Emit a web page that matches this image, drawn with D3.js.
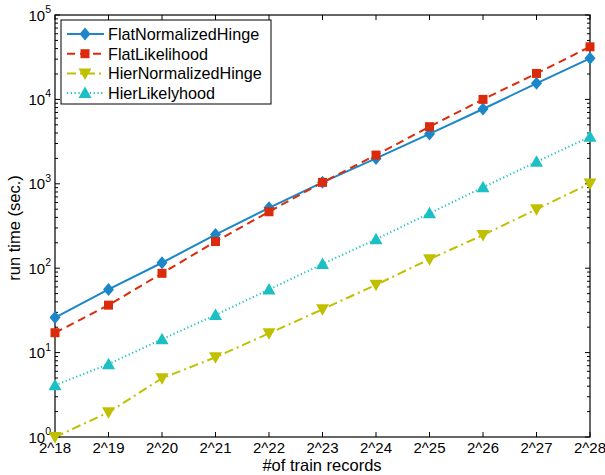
<!DOCTYPE html>
<html><head><meta charset="utf-8">
<script src="https://cdn.jsdelivr.net/npm/d3@7"></script>
<style>body{margin:0;background:#fff}text{font-family:"Liberation Sans",Arial,sans-serif}</style>
</head><body>
<svg id="c" width="605" height="475"></svg>
<script>
const exponents = [18,19,20,21,22,23,24,25,26,27,28];
const xTickLabels = exponents.map(e => "2^" + e);
const flatNormalizedHinge = [26, 56, 116, 250, 520, 1040, 2000, 3900, 7700, 15500, 30700];
const flatLikelihood = [17.2, 36.5, 87, 207, 466, 1040, 2190, 4750, 10000, 20300, 42000];
const hierNormalizedHinge = [1, 1.96, 4.96, 8.8, 16.9, 32.6, 63.5, 128, 247, 499, 1010];
const hierLikelyhood = [4.1, 7.3, 14.4, 27.9, 56, 112, 220, 447, 908, 1820, 3610];
const seriesNames = ["FlatNormalizedHinge","FlatLikelihood","HierNormalizedHinge","HierLikelyhood"];
const yTickExps = [0,1,2,3,4,5];

const series = [
  {name: seriesNames[0], values: flatNormalizedHinge, color: "#1b86c8", dash: null, marker: "diamond"},
  {name: seriesNames[1], values: flatLikelihood, color: "#dc2b0c", dash: "8,5", marker: "square"},
  {name: seriesNames[2], values: hierNormalizedHinge, color: "#c0c000", dash: "9,4,2,4", marker: "tdown"},
  {name: seriesNames[3], values: hierLikelyhood, color: "#1cc0c4", dash: "1.2,2.6", marker: "tup"}
];

const L = 55, R = 590, T = 15, B = 437;
const svg = d3.select("#c");
const x = d3.scaleLinear().domain([18, 28]).range([L, R]);
const y = d3.scaleLog().domain([1, 1e5]).range([B, T]);

// Box
svg.append("rect").attr("x", L).attr("y", T).attr("width", R - L).attr("height", B - T)
  .attr("fill", "none").attr("stroke", "#000").attr("stroke-width", 1.2);

// x ticks (inside, bottom and top)
const g = svg.append("g");
exponents.forEach(e => {
  const px = x(e);
  g.append("line").attr("x1", px).attr("x2", px).attr("y1", B).attr("y2", B - 5).attr("stroke", "#000");
  g.append("line").attr("x1", px).attr("x2", px).attr("y1", T).attr("y2", T + 5).attr("stroke", "#000");
});
svg.selectAll(".xl").data(exponents).enter().append("text")
  .attr("x", d => x(d)).attr("y", 453).attr("text-anchor", "middle")
  .attr("font-size", 15).text((d, i) => xTickLabels[i]);

// y ticks
for (let ex = 0; ex <= 5; ex++) {
  const py = y(Math.pow(10, ex));
  g.append("line").attr("x1", L).attr("x2", L + 5).attr("y1", py).attr("y2", py).attr("stroke", "#000");
  g.append("line").attr("x1", R).attr("x2", R - 5).attr("y1", py).attr("y2", py).attr("stroke", "#000");
  if (ex < 5) {
    for (let m = 2; m <= 9; m++) {
      const pm = y(m * Math.pow(10, ex));
      g.append("line").attr("x1", L).attr("x2", L + 3).attr("y1", pm).attr("y2", pm).attr("stroke", "#000");
      g.append("line").attr("x1", R).attr("x2", R - 3).attr("y1", pm).attr("y2", pm).attr("stroke", "#000");
    }
  }
}
yTickExps.forEach(ex => {
  const py = y(Math.pow(10, ex));
  const t = svg.append("text").attr("x", 51).attr("y", py + 5.5).attr("text-anchor", "end").attr("font-size", 15);
  t.append("tspan").text("10");
  t.append("tspan").attr("dy", -7.5).attr("font-size", 10.5).text(ex);
});

// Axis titles
svg.append("text").attr("x", 322).attr("y", 471).attr("text-anchor", "middle").attr("font-size", 16.5).text("#of train records");
svg.append("text").attr("transform", "translate(20,228) rotate(-90)").attr("text-anchor", "middle").attr("font-size", 16.5).text("run time (sec.)");

// marker function
function marker(sel, type, color) {
  if (type === "diamond") {
    sel.append("path").attr("d", "M0,-6.5L5.5,0L0,6.5L-5.5,0Z").attr("fill", color);
  } else if (type === "square") {
    sel.append("rect").attr("x", -4.5).attr("y", -4.5).attr("width", 9).attr("height", 9).attr("fill", color);
  } else if (type === "tdown") {
    sel.append("path").attr("d", "M-6.5,-5L6.5,-5L0,6.5Z").attr("fill", color);
  } else {
    sel.append("path").attr("d", "M-6.5,5L6.5,5L0,-6.5Z").attr("fill", color);
  }
}

const line = d3.line().x((d, i) => x(exponents[i])).y(d => y(d));
series.forEach(s => {
  svg.append("path").attr("d", line(s.values)).attr("fill", "none")
    .attr("stroke", s.color).attr("stroke-width", 2)
    .attr("stroke-dasharray", s.dash);
  s.values.forEach((v, i) => {
    const mg = svg.append("g").attr("transform", `translate(${x(exponents[i])},${y(v)})`);
    marker(mg, s.marker, s.color);
  });
});

// Legend
svg.append("rect").attr("x", 61).attr("y", 20).attr("width", 210).attr("height", 84)
  .attr("fill", "#fff").attr("stroke", "#000").attr("stroke-width", 1);
series.forEach((s, i) => {
  const ly = 34 + i * 19.7;
  svg.append("line").attr("x1", 67).attr("x2", 104).attr("y1", ly).attr("y2", ly)
    .attr("stroke", s.color).attr("stroke-width", 2).attr("stroke-dasharray", s.dash);
  const mg = svg.append("g").attr("transform", `translate(85,${ly})`);
  marker(mg, s.marker, s.color);
  svg.append("text").attr("x", 108).attr("y", ly + 6).attr("font-size", 16.2).text(s.name);
});
</script>
</body></html>
